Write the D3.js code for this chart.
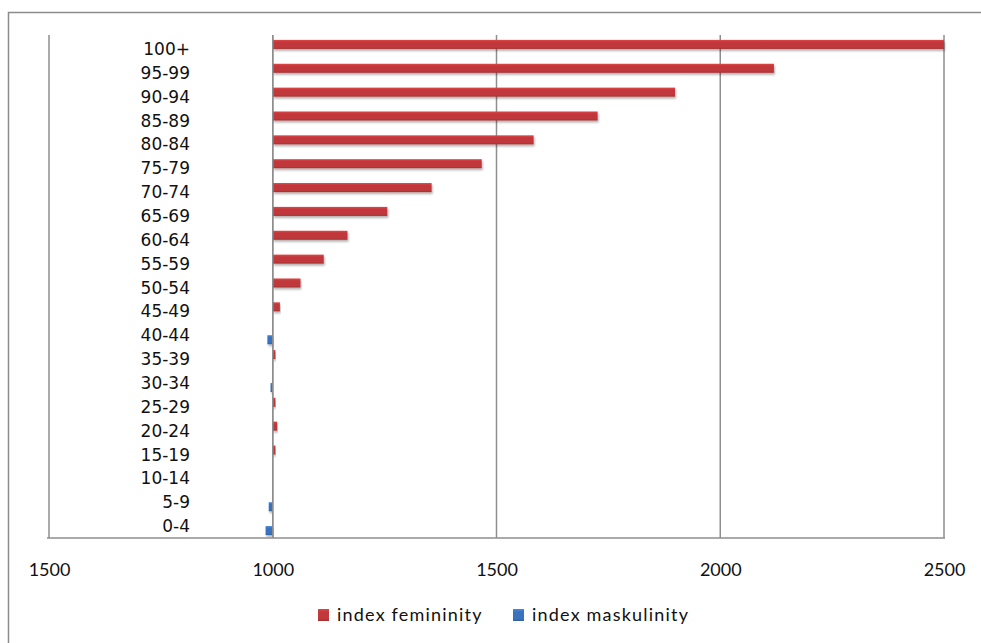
<!DOCTYPE html>
<html>
<head>
<meta charset="utf-8">
<script src="https://cdn.jsdelivr.net/npm/d3@7"></script>
<style>
  html, body { margin: 0; padding: 0; background: #fff; }
  svg { display: block; }
</style>
</head>
<body>
<svg id="chart" width="981" height="643"></svg>
<script>
// ---- data ----
const categories = ["100+","95-99","90-94","85-89","80-84","75-79","70-74","65-69","60-64","55-59","50-54","45-49","40-44","35-39","30-34","25-29","20-24","15-19","10-14","5-9","0-4"];
const femininity = [2500, 2120, 1899, 1726, 1583, 1467, 1355, 1256, 1167, 1114, 1062, 1016, null, 1006, null, 1006, 1010, 1006, null, null, null];
const masculinity = [null, null, null, null, null, null, null, null, null, null, null, null, 1012, null, 1005, null, null, null, null, 1009, 1016];
const seriesNames = ["index femininity", "index maskulinity"];
const seriesColors = ["#c0393b", "#3a72be"];
const tickValues = [500, 1000, 1500, 2000, 2500];
const tickLabels = ["1500", "1000", "1500", "2000", "2500"];

// ---- layout ----
const svg = d3.select("#chart");
const plotLeft = 49, plotRight = 944, plotTop = 37, plotBottom = 538;

const x = d3.scaleLinear().domain([500, 2500]).range([plotLeft, plotRight]);
const y = d3.scaleBand().domain(categories).range([plotTop, plotBottom]).padding(0);
const ySub = d3.scaleBand().domain(seriesNames).range([0, y.bandwidth()]).paddingInner(0).paddingOuter(0.32);

// defs: shadow + gradients
const defs = svg.append("defs");
const f = defs.append("filter").attr("id", "shadow").attr("x", "-5%").attr("y", "-50%").attr("width", "110%").attr("height", "220%");
f.append("feDropShadow").attr("dx", 1).attr("dy", 2).attr("stdDeviation", 1.3).attr("flood-color", "#000").attr("flood-opacity", 0.3);
seriesColors.forEach((c, i) => {
  const g = defs.append("linearGradient").attr("id", "grad" + i).attr("x1", 0).attr("y1", 0).attr("x2", 0).attr("y2", 1);
  g.append("stop").attr("offset", "0%").attr("stop-color", d3.color(c).brighter(0.5));
  g.append("stop").attr("offset", "25%").attr("stop-color", c);
  g.append("stop").attr("offset", "80%").attr("stop-color", c);
  g.append("stop").attr("offset", "100%").attr("stop-color", d3.color(c).darker(0.5));
});

// outer frame
svg.append("rect")
  .attr("x", 8.5).attr("y", 12.5).attr("width", 1000).attr("height", 700)
  .attr("fill", "none").attr("stroke", "#8c8c8c").attr("stroke-width", 1.5);

// vertical gridlines
svg.append("g").selectAll("line").data(tickValues).join("line")
  .attr("x1", d => x(d)).attr("x2", d => x(d))
  .attr("y1", 35).attr("y2", plotBottom)
  .attr("stroke", "#8e8e8e").attr("stroke-width", 1.5);

// category labels
svg.append("g").selectAll("text").data(categories).join("text")
  .attr("x", 190)
  .attr("y", d => y(d) + y.bandwidth() / 2)
  .attr("text-anchor", "end")
  .attr("dominant-baseline", "central")
  .attr("font-family", "DejaVu Sans, sans-serif")
  .attr("font-size", 17)
  .attr("fill", "#111")
  .text(d => d);

// bars
const barsG = svg.append("g");
const fem = categories.map((c, i) => ({ c, v: femininity[i] })).filter(d => d.v != null);
const mas = categories.map((c, i) => ({ c, v: masculinity[i] })).filter(d => d.v != null);

barsG.selectAll("rect.fem").data(fem).join("rect")
  .attr("class", "fem")
  .attr("x", x(1000))
  .attr("y", d => y(d.c) + ySub(seriesNames[0]))
  .attr("width", d => x(d.v) - x(1000))
  .attr("height", ySub.bandwidth())
  .attr("fill", "url(#grad0)")
  .attr("filter", "url(#shadow)");

barsG.selectAll("rect.mas").data(mas).join("rect")
  .attr("class", "mas")
  .attr("x", d => x(2000 - d.v))
  .attr("y", d => y(d.c) + ySub(seriesNames[1]))
  .attr("width", d => x(1000) - x(2000 - d.v))
  .attr("height", ySub.bandwidth())
  .attr("fill", "url(#grad1)")
  .attr("filter", "url(#shadow)");

// 1000 axis line on top
svg.append("line")
  .attr("x1", x(1000)).attr("x2", x(1000)).attr("y1", 35).attr("y2", plotBottom)
  .attr("stroke", "#8e8e8e").attr("stroke-width", 1.5);

// x axis
const xAxis = d3.axisBottom(x)
  .tickValues(tickValues)
  .tickFormat((d, i) => tickLabels[i])
  .tickSize(0)
  .tickPadding(25);
const ax = svg.append("g").attr("transform", `translate(0,${plotBottom})`).call(xAxis);
ax.select(".domain").attr("stroke", "#8e8e8e").attr("stroke-width", 1.5).attr("d", `M${plotLeft - 2},0H${plotRight + 1}`);
ax.selectAll("text")
  .attr("font-family", "Lato, sans-serif")
  .attr("font-size", 18)
  .attr("fill", "#111");

// legend
const legend = svg.append("g");
const legendX = [318, 513];
seriesNames.forEach((name, i) => {
  legend.append("rect")
    .attr("x", legendX[i]).attr("y", 609)
    .attr("width", 11).attr("height", 12)
    .attr("fill", "url(#grad" + i + ")");
  legend.append("text")
    .attr("x", legendX[i] + 19).attr("y", 621)
    .attr("font-family", "Lato, sans-serif")
    .attr("font-size", 18)
    .attr("letter-spacing", "1.2px")
    .attr("fill", "#111")
    .text(name);
});
</script>
</body>
</html>
